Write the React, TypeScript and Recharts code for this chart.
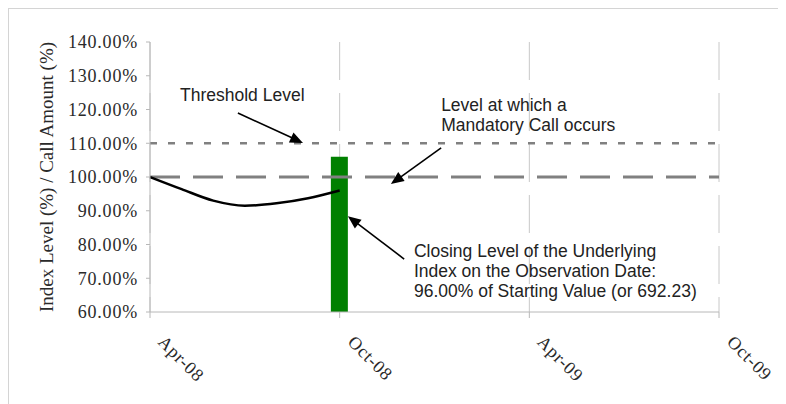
import React from 'react';
import {
  ComposedChart,
  Line,
  Bar,
  XAxis,
  YAxis,
  CartesianGrid,
  ReferenceLine,
  ReferenceDot,
} from 'recharts';

// ---- data ----
const months = [0, 1, 2, 3, 4, 5, 6]; // months since Apr-08
const indexLevelPct = [100, 96.4, 93.0, 91.5, 92.2, 93.7, 96];
const observationMonth = 6;
const callAmountPct = 106;
const thresholdLevelPct = 110;
const mandatoryCallLevelPct = 100;
const xTickValues = [0, 6, 12, 18];
const xTickLabels = ['Apr-08', 'Oct-08', 'Apr-09', 'Oct-09'];
const yTickValues = [60, 70, 80, 90, 100, 110, 120, 130, 140];

const noteTexts = [
  ['Threshold Level'],
  ['Level at which a', 'Mandatory Call occurs'],
  [
    'Closing Level of the Underlying',
    'Index on the Observation Date:',
    '96.00% of Starting Value (or 692.23)',
  ],
];
// anchor of each note (data coords: month, percent)
const noteAnchors = [
  { x: 0.95, y: 122.5 },
  { x: 9.21, y: 119.6 },
  { x: 8.35, y: 76.3 },
];
// arrows (data coords)
const arrowSegments = [
  [{ x: 2.78, y: 118.96 }, { x: 4.84, y: 110.1 }],
  [{ x: 9.21, y: 108.6 }, { x: 7.62, y: 97.9 }],
  [{ x: 8.04, y: 75.7 }, { x: 6.26, y: 88.4 }],
];

const data = months.map((m, i) => ({
  month: m,
  index: indexLevelPct[i],
  call: m === observationMonth ? callAmountPct : null,
}));

const SERIF = '"Liberation Serif", "Times New Roman", Times, serif';
const SANS = '"Liberation Sans", Arial, Helvetica, sans-serif';

const ArrowShape = (props: any) => {
  const { x1, y1, x2, y2 } = props;
  if ([x1, y1, x2, y2].some((v) => typeof v !== 'number' || isNaN(v))) return null;
  const dx = x2 - x1;
  const dy = y2 - y1;
  const len = Math.sqrt(dx * dx + dy * dy) || 1;
  const ux = dx / len;
  const uy = dy / len;
  const L = 13;
  const W = 5.5;
  const bx = x2 - ux * L;
  const by = y2 - uy * L;
  const p1 = `${x2},${y2}`;
  const p2 = `${bx - uy * W},${by + ux * W}`;
  const p3 = `${bx + uy * W},${by - ux * W}`;
  return (
    <g>
      <line x1={x1} y1={y1} x2={bx + ux * 2} y2={by + uy * 2} stroke="#000" strokeWidth={1.6} />
      <polygon points={`${p1} ${p2} ${p3}`} fill="#000" />
    </g>
  );
};

const makeNote = (lines: string[]) => (p: any) => {
  const vb = p && p.viewBox ? p.viewBox : { x: 0, y: 0 };
  return (
    <text
      x={vb.x}
      y={vb.y}
      fill="#222"
      fontSize={17.5}
      fontFamily={SANS}
      textAnchor="start"
    >
      {lines.map((t, i) => (
        <tspan key={i} x={vb.x} dy={i === 0 ? 0 : 20}>
          {t}
        </tspan>
      ))}
    </text>
  );
};

const XTick = (props: any) => {
  const { x, y, payload } = props;
  const idx = xTickValues.indexOf(payload.value);
  const label = idx >= 0 ? xTickLabels[idx] : '';
  const tx = x + 7;
  const ty = y + 23;
  return (
    <text
      x={tx}
      y={ty}
      transform={`rotate(45, ${tx}, ${ty})`}
      textAnchor="start"
      fill="#2a2a2a"
      fontSize={18}
      letterSpacing={0.8}
      fontFamily={SERIF}
    >
      {label}
    </text>
  );
};

const YLabel = (p: any) => {
  const vb = p && p.viewBox ? p.viewBox : { x: 0, y: 33, width: 141, height: 270 };
  const x = vb.x + 44;
  const y = vb.y + vb.height / 2;
  return (
    <text
      x={x}
      y={y}
      transform={`rotate(-90, ${x}, ${y})`}
      textAnchor="middle"
      fill="#2a2a2a"
      fontSize={19}
      fontFamily={SERIF}
    >
      Index Level (%) / Call Amount (%)
    </text>
  );
};

export default function App() {
  return (
    <div
      style={{
        width: 777,
        height: 395,
        borderTop: '1px solid #d4d4d4',
        borderLeft: '1px solid #d4d4d4',
        background: '#fff',
      }}
    >
      <style>{`body{overflow:hidden;background:#fff}`}</style>
      <ComposedChart
        width={777}
        height={395}
        data={data}
        margin={{ top: 33, right: 67, left: 0, bottom: 32 }}
      >
        <CartesianGrid
          horizontal={false}
          vertical={true}
          stroke="#c8c8c8"
          strokeDasharray="38 13"
        />
        <XAxis
          type="number"
          dataKey="month"
          domain={[0, 18]}
          ticks={xTickValues}
          interval={0}
          height={60}
          tickSize={6}
          tickMargin={2}
          axisLine={{ stroke: '#b8b8b8' }}
          tickLine={{ stroke: '#b8b8b8' }}
          tick={<XTick />}
        />
        <YAxis
          type="number"
          domain={[60, 140]}
          ticks={yTickValues}
          interval={0}
          width={141}
          tickSize={4}
          tickMargin={8}
          axisLine={{ stroke: '#b8b8b8' }}
          tickLine={{ stroke: '#b8b8b8' }}
          tickFormatter={(v: number) => `${v.toFixed(2)}%`}
          tick={{ fill: '#2a2a2a', fontSize: 18, fontFamily: SERIF, letterSpacing: 0.8 }}
          label={YLabel}
        />
        <Bar dataKey="call" fill="#008000" barSize={17} isAnimationActive={false} />
        <ReferenceLine
          y={thresholdLevelPct}
          stroke="#808080"
          strokeWidth={2.5}
          strokeDasharray="7 11"
        />
        <ReferenceLine
          y={mandatoryCallLevelPct}
          stroke="#808080"
          strokeWidth={3}
          strokeDasharray="30 13"
        />
        <Line
          type="monotone"
          dataKey="index"
          stroke="#000"
          strokeWidth={2.5}
          dot={false}
          activeDot={false}
          isAnimationActive={false}
        />
        {arrowSegments.map((seg, i) => (
          <ReferenceLine key={`a${i}`} segment={seg} shape={ArrowShape} />
        ))}
        {noteAnchors.map((a, i) => (
          <ReferenceDot
            key={`n${i}`}
            x={a.x}
            y={a.y}
            r={0}
            strokeWidth={0}
            fill="none"
            label={makeNote(noteTexts[i])}
          />
        ))}
      </ComposedChart>
    </div>
  );
}
